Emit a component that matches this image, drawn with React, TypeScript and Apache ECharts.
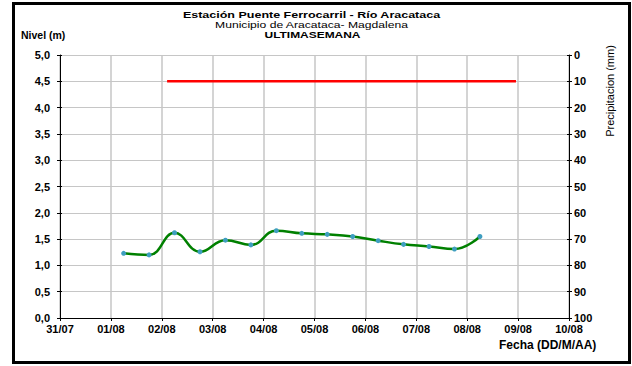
import React, { useEffect, useRef } from "react";
import * as echarts from "echarts";

const titleLines = [
  "Estación Puente Ferrocarril - Río Aracataca",
  "Municipio de Aracataca- Magdalena",
  "ULTIMASEMANA",
];
const leftAxisName = "Nivel (m)";
const rightAxisName = "Precipitacion (mm)";
const xAxisName = "Fecha (DD/M/AA)";

const dayLabels = ["31/07", "01/08", "02/08", "03/08", "04/08", "05/08", "06/08", "07/08", "08/08", "09/08", "10/08"];

const levelTimes = [
  "01/08 06:00", "01/08 18:00",
  "02/08 06:00", "02/08 18:00",
  "03/08 06:00", "03/08 18:00",
  "04/08 06:00", "04/08 18:00",
  "05/08 06:00", "05/08 18:00",
  "06/08 06:00", "06/08 18:00",
  "07/08 06:00", "07/08 18:00",
  "08/08 06:00",
];
const levelValues = [1.23, 1.2, 1.62, 1.26, 1.48, 1.39, 1.66, 1.61, 1.59, 1.55, 1.47, 1.4, 1.36, 1.31, 1.55];

const thresholdTimes = ["02/08 02:30", "08/08 23:00"];
const thresholdValues = [4.5, 4.5];

// hours since 31/07 00:00
function toHours(s: string): number {
  const [date, time] = s.split(" ");
  const [dd, mm] = date.split("/").map(Number);
  const [hh, mi] = time.split(":").map(Number);
  const dayIdx = mm === 7 ? dd - 31 : dd;
  return dayIdx * 24 + hh + mi / 60;
}

const FONT = "'Liberation Sans', Arial, sans-serif";

export default function App() {
  const ref = useRef<HTMLDivElement>(null);
  useEffect(() => {
    if (!ref.current) return;
    const chart = echarts.init(ref.current, undefined, { renderer: "svg" });
    const gridColor = "#c6c6c6";
    const labelStyle = { color: "#000", fontFamily: FONT, fontWeight: "bold" as const, fontSize: 11 };
    chart.setOption({
      animation: false,
      backgroundColor: "#ffffff",
      grid: { left: 60, right: 63, top: 55, bottom: 48, containLabel: false },
      xAxis: {
        type: "value",
        min: 0,
        max: 240,
        interval: 24,
        axisLine: { show: true, lineStyle: { color: "#000", width: 1 } },
        axisTick: { show: true, length: 3, lineStyle: { color: "#000" } },
        axisLabel: {
          ...labelStyle,
          margin: 5,
          formatter: (v: number) => dayLabels[Math.round(v / 24)] ?? "",
        },
        splitLine: { show: true, lineStyle: { color: gridColor, width: 1.5 } },
      },
      yAxis: [
        {
          type: "value",
          position: "left",
          min: 0,
          max: 5,
          interval: 0.5,
          axisLine: { show: true, lineStyle: { color: "#000", width: 1 } },
          axisTick: { show: true, length: 3, lineStyle: { color: "#000" } },
          axisLabel: {
            ...labelStyle,
            margin: 10,
            formatter: (v: number) => v.toFixed(1).replace(".", ","),
          },
          splitLine: { show: true, lineStyle: { color: gridColor, width: 1 } },
        },
        {
          type: "value",
          position: "right",
          min: 0,
          max: 100,
          interval: 10,
          inverse: true,
          axisLine: { show: true, lineStyle: { color: "#000", width: 1 } },
          axisTick: { show: true, length: 3, lineStyle: { color: "#000" } },
          axisLabel: { ...labelStyle, margin: 5 },
          splitLine: { show: false },
        },
        {
          type: "value",
          position: "left",
          min: 0,
          max: 5,
          interval: 0.5,
          axisLine: { show: false },
          axisTick: { show: true, inside: true, length: 2, lineStyle: { color: "#000" } },
          axisLabel: { show: false },
          splitLine: { show: false },
        },
        {
          type: "value",
          position: "right",
          min: 0,
          max: 100,
          interval: 10,
          axisLine: { show: false },
          axisTick: { show: true, inside: true, length: 2, lineStyle: { color: "#000" } },
          axisLabel: { show: false },
          splitLine: { show: false },
        },
      ],
      series: [
        {
          name: "Umbral",
          type: "line",
          yAxisIndex: 0,
          data: thresholdTimes.map((t, i) => [toHours(t), thresholdValues[i]]),
          showSymbol: false,
          symbol: "none",
          lineStyle: { color: "#ff0000", width: 2.5 },
          z: 3,
        },
        {
          name: "Nivel",
          type: "line",
          yAxisIndex: 0,
          data: levelTimes.map((t, i) => [toHours(t), levelValues[i]]),
          smooth: 0.45,
          symbol: "circle",
          symbolSize: 5,
          itemStyle: { color: "#3f9ec0", borderWidth: 0 },
          lineStyle: { color: "#008000", width: 2.5 },
          z: 4,
        },
      ],
      graphic: [
        { type: "rect", shape: { x: 12, y: 2, width: 619, height: 3 }, style: { fill: "#000" } },
        { type: "rect", shape: { x: 12, y: 361, width: 619, height: 3 }, style: { fill: "#000" } },
        { type: "rect", shape: { x: 12, y: 2, width: 3, height: 362 }, style: { fill: "#000" } },
        { type: "rect", shape: { x: 628, y: 2, width: 3, height: 362 }, style: { fill: "#000" } },
        {
          type: "text", x: 311.5, y: 14.8, scaleX: 1.36,
          style: { text: titleLines[0], fill: "#000", font: `bold 9.2px ${FONT}`, align: "center", verticalAlign: "middle" },
        },
        {
          type: "text", x: 311.5, y: 24.6, scaleX: 1.32,
          style: { text: titleLines[1], fill: "#000", font: `9.2px ${FONT}`, align: "center", verticalAlign: "middle" },
        },
        {
          type: "text", x: 312.5, y: 34.4, scaleX: 1.3,
          style: { text: titleLines[2], fill: "#000", font: `bold 9.2px ${FONT}`, align: "center", verticalAlign: "middle" },
        },
        {
          type: "text", x: 21, y: 35,
          style: { text: leftAxisName, fill: "#000", font: `bold 10.5px ${FONT}`, align: "left", verticalAlign: "middle" },
        },
        {
          type: "text", x: 610, y: 91, rotation: Math.PI / 2,
          style: { text: rightAxisName, fill: "#000", font: `11px ${FONT}`, align: "center", verticalAlign: "middle" },
        },
        {
          type: "text", x: 499, y: 345,
          style: { text: xAxisName, fill: "#000", font: `bold 12px ${FONT}`, align: "left", verticalAlign: "middle" },
        },
      ],
    });
    return () => chart.dispose();
  }, []);
  return (
    <div
      ref={ref}
      style={{ position: "fixed", left: 0, top: 0, width: 632, height: 366, background: "#fff" }}
    />
  );
}
